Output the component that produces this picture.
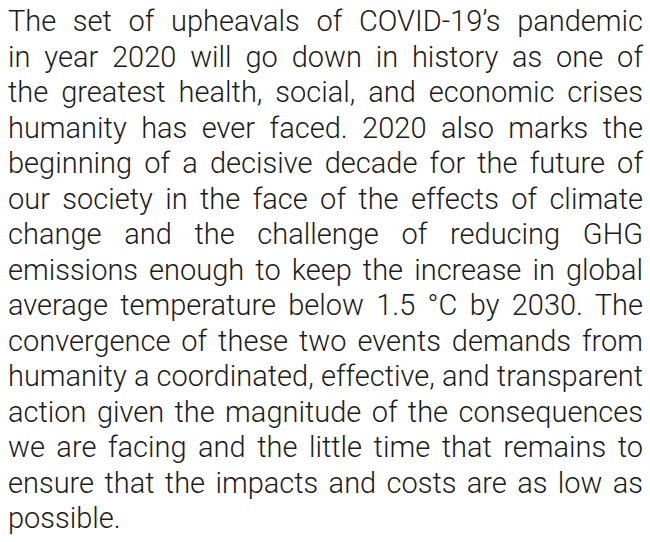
import React from "react";

const lines: string[] = [
  "The set of upheavals of COVID-19’s pandemic",
  "in year 2020 will go down in history as one of",
  "the greatest health, social, and economic crises",
  "humanity has ever faced. 2020 also marks the",
  "beginning of a decisive decade for the future of",
  "our society in the face of the effects of climate",
  "change and the challenge of reducing GHG",
  "emissions enough to keep the increase in global",
  "average temperature below 1.5 °C by 2030. The",
  "convergence of these two events demands from",
  "humanity a coordinated, effective, and transparent",
  "action given the magnitude of the consequences",
  "we are facing and the little time that remains to",
  "ensure that the impacts and costs are as low as",
  "possible.",
];

export default function App() {
  return (
    <div
      style={{
        position: "absolute",
        left: 8,
        top: 4,
        width: 635,
        fontFamily: "Roboto, sans-serif",
        fontWeight: 300,
        fontSize: 29,
        lineHeight: "35.5px",
        wordSpacing: -4,
        color: "#1c1c1c",
        background: "#fff",
      }}
    >
      {lines.map((l, i) => (
        <div
          key={i}
          style={{
            textAlign: "justify",
            textAlignLast: i === lines.length - 1 ? "left" : "justify",
            whiteSpace: "nowrap",
          }}
        >
          {l}
        </div>
      ))}
    </div>
  );
}
